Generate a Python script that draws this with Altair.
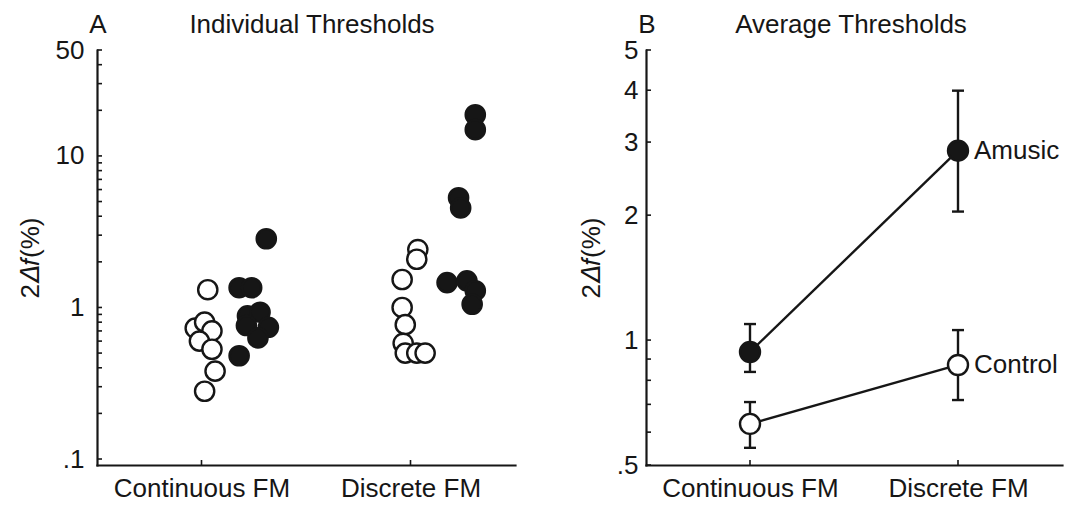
import altair as alt
import pandas as pd

INK = "#161616"
FONT = "Liberation Sans"
FS = 26

conditions = ["Continuous FM", "Discrete FM"]
groups = ["Control", "Amusic"]

# ---- Panel A: individual thresholds, 2Δf (%) ----
cont_control = [1.31, 0.73, 0.80, 0.70, 0.60, 0.53, 0.38, 0.28]
cont_control_jitter = [0.03, -0.03, 0.015, 0.05, -0.01, 0.05, 0.065, 0.015]
cont_amusic = [2.84, 1.35, 1.35, 0.88, 0.93, 0.74, 0.76, 0.63, 0.48]
cont_amusic_jitter = [0.31, 0.18, 0.24, 0.22, 0.28, 0.32, 0.215, 0.27, 0.18]
disc_control = [2.41, 2.08, 1.53, 1.00, 0.77, 0.58, 0.50, 0.50, 0.50]
disc_control_jitter = [0.035, 0.03, -0.04, -0.04, -0.025, -0.035, -0.025, 0.03, 0.07]
disc_amusic = [18.7, 14.9, 5.3, 4.54, 1.46, 1.50, 1.29, 1.05]
disc_amusic_jitter = [0.31, 0.31, 0.23, 0.24, 0.175, 0.27, 0.31, 0.295]

# ---- Panel B: group means with error bars ----
amusic_mean = [0.936, 2.86]
amusic_lo = [0.838, 2.04]
amusic_hi = [1.093, 3.99]
control_mean = [0.628, 0.871]
control_lo = [0.550, 0.717]
control_hi = [0.709, 1.057]

# axis tick values
a_labels = [0.1, 1, 10, 50]
a_ticks = [0.1, 0.2, 0.3, 0.4, 0.5, 0.6, 0.7, 0.8, 0.9,
           1, 2, 3, 4, 5, 6, 7, 8, 9, 10, 20, 30, 40, 50]
b_labels = [0.5, 1, 2, 3, 4, 5]
b_ticks = [0.5, 0.6, 0.7, 0.8, 0.9, 1, 2, 3, 4, 5]

W_A, W_B, H = 418, 416, 415

# ---------- tables ----------
rows = []
for ci, (vals, jit, grp) in enumerate([
        (cont_control, cont_control_jitter, "Control"),
        (cont_amusic, cont_amusic_jitter, "Amusic"),
        (disc_control, disc_control_jitter, "Control"),
        (disc_amusic, disc_amusic_jitter, "Amusic")]):
    cond_pos = 1 if ci < 2 else 2
    for v, j in zip(vals, jit):
        rows.append({"pos": cond_pos + j, "value": v, "group": grp})
df_a = pd.DataFrame(rows)

rows_b = []
for grp, m, lo, hi in [("Amusic", amusic_mean, amusic_lo, amusic_hi),
                       ("Control", control_mean, control_lo, control_hi)]:
    for i in range(2):
        rows_b.append({"pos": i + 1, "value": m[i], "lo": lo[i], "hi": hi[i],
                       "group": grp, "cond": conditions[i]})
df_b = pd.DataFrame(rows_b)

cat_df = pd.DataFrame({"pos": [1, 2]})

label_expr = "datum.value < 1 ? '.' + format(datum.value * 10, 'd') : format(datum.value, 'd')"
x_label_expr = "[" + ",".join(f"'{c}'" for c in conditions) + "][datum.value - 1]"

y_title = "2\U0001D6E5\U0001D453(%)"


def x_enc(field="pos"):
    return alt.X(f"{field}:Q",
                 scale=alt.Scale(domain=[0.5, 2.5], nice=False, zero=False),
                 axis=alt.Axis(values=[1, 2], labelExpr=x_label_expr, title=None,
                               ticks=False, grid=False, labelPadding=10,
                               labelFontSize=FS, labelColor=INK, labelFont=FONT,
                               domainColor=INK, domainWidth=2.2, domainCap="square"))


def y_enc(domain, labels, pad, field="value"):
    return alt.Y(f"{field}:Q",
                 scale=alt.Scale(type="log", domain=domain, nice=False),
                 axis=alt.Axis(values=labels, labelExpr=label_expr, title=y_title,
                               ticks=False, grid=False, labelPadding=pad,
                               labelFontSize=FS, labelColor=INK, labelFont=FONT,
                               titleFontSize=FS, titleFont=FONT, titleColor=INK,
                               titleFontWeight="normal", titlePadding=12,
                               domainColor=INK, domainWidth=2.2, domainCap="square"))


fill_scale = alt.Scale(domain=groups, range=["white", INK])


def panel_frame(domain, labels, ticks, pad, letter, title, title_x):
    tick_df = pd.DataFrame({"value": ticks})
    y_ticks = alt.Chart(tick_df).mark_rule(color=INK, strokeWidth=1.6).encode(
        y=y_enc(domain, labels, pad), x=alt.value(0), x2=alt.value(5))
    x_ticks = alt.Chart(cat_df).mark_rule(color=INK, strokeWidth=1.6).encode(
        x=x_enc(), y=alt.value(H), y2=alt.value(H - 5))
    head = alt.Chart(pd.DataFrame({"letter": [letter], "title": [title]}))
    letter_mark = head.mark_text(fontSize=FS, font=FONT, color=INK, align="center",
                                 baseline="middle").encode(
        text="letter:N", x=alt.value(1), y=alt.value(-25))
    title_mark = head.mark_text(fontSize=FS, font=FONT, color=INK, align="center",
                                baseline="middle").encode(
        text="title:N", x=alt.value(title_x), y=alt.value(-25))
    return [y_ticks, x_ticks, letter_mark, title_mark]


# ---------- Panel A ----------
dom_a = [0.0913, 50]
points_a = alt.Chart(df_a).mark_point(shape="circle", filled=True, size=370, stroke=INK,
                                      strokeWidth=2.4, opacity=1).encode(
    x=x_enc(), y=y_enc(dom_a, a_labels, 13),
    fill=alt.Fill("group:N", scale=fill_scale, legend=None))

panel_a = alt.layer(
    *panel_frame(dom_a, a_labels, a_ticks, 13, "A", "Individual Thresholds", 215),
    points_a,
).properties(width=W_A, height=H)

# ---------- Panel B ----------
dom_b = [0.5, 5]
base_b = alt.Chart(df_b)
lines_b = base_b.mark_line(color=INK, strokeWidth=2.4).encode(
    x=x_enc(), y=y_enc(dom_b, b_labels, 8), detail="group:N")
err_b = base_b.mark_rule(color=INK, strokeWidth=2.4).encode(
    x=x_enc(), y=y_enc(dom_b, b_labels, 8, "lo"), y2="hi:Q")
cap_lo = base_b.mark_tick(orient="horizontal", size=12, thickness=2.4, color=INK,
                          opacity=1).encode(x=x_enc(), y=y_enc(dom_b, b_labels, 8, "lo"))
cap_hi = base_b.mark_tick(orient="horizontal", size=12, thickness=2.4, color=INK,
                          opacity=1).encode(x=x_enc(), y=y_enc(dom_b, b_labels, 8, "hi"))
points_b = base_b.mark_point(shape="circle", filled=True, size=400, stroke=INK,
                             strokeWidth=2.4, opacity=1).encode(
    x=x_enc(), y=y_enc(dom_b, b_labels, 8),
    fill=alt.Fill("group:N", scale=fill_scale, legend=None))
names_b = base_b.transform_filter("datum.pos == 2").mark_text(
    align="left", baseline="middle", dx=16, fontSize=FS, font=FONT, color=INK).encode(
    x=x_enc(), y=y_enc(dom_b, b_labels, 8), text="group:N")

panel_b = alt.layer(
    *panel_frame(dom_b, b_labels, b_ticks, 8, "B", "Average Thresholds", 205),
    lines_b, err_b, cap_lo, cap_hi, points_b, names_b,
).properties(width=W_B, height=H)

chart = alt.hconcat(panel_a, panel_b, spacing=131, bounds="flush").properties(
    padding={"left": 17, "top": 12, "right": 5, "bottom": 5}
).configure(font=FONT).configure_view(stroke=None)

chart.save("out.html", embed_options={"renderer": "svg", "actions": False})
